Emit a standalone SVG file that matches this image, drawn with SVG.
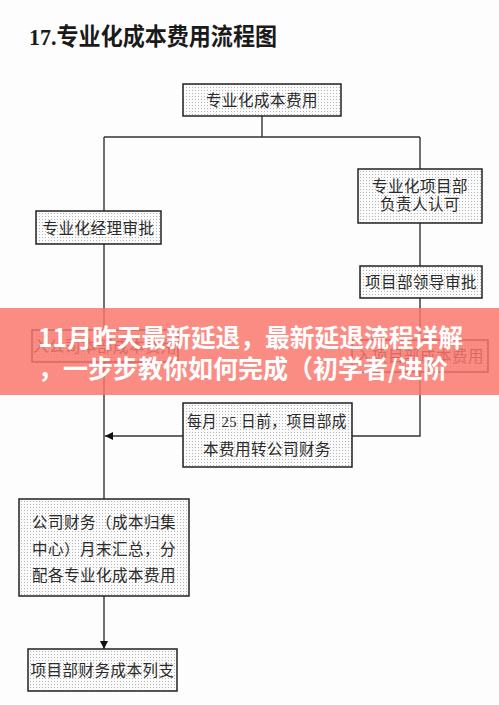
<svg xmlns="http://www.w3.org/2000/svg" width="499" height="705" viewBox="0 0 499 705">
<defs>
<pattern id="dots" width="3" height="3" patternUnits="userSpaceOnUse">
<rect width="3" height="3" fill="#fbfbfb"/>
<rect width="1" height="1" fill="#b4b4b4"/>
</pattern>
<marker id="arr" viewBox="0 0 10 10" refX="10" refY="5" markerWidth="8" markerHeight="8" markerUnits="userSpaceOnUse" orient="auto">
<path d="M0,0 L10,5 L0,10 Z" fill="#111"/>
</marker>
</defs>
<style>
.box{fill:url(#dots);stroke:#222;stroke-width:1.5}
.t{font-family:"Liberation Serif","Noto Sans CJK SC",serif;font-size:15.5px;fill:#2a2a2a;text-anchor:middle;dominant-baseline:central;letter-spacing:0.5px}
.ln{fill:none;stroke:#333;stroke-width:1.4}
.title{font-family:"Liberation Serif","Noto Sans CJK SC",serif;font-weight:bold;font-size:23.5px;fill:#1a1a1a}
.ban{font-family:"Noto Sans CJK SC","Noto Sans",sans-serif;font-weight:bold;font-size:25px;fill:#ffffff}
</style>
<rect width="499" height="705" fill="#fdfdfd"/>
<text class="title" x="29" y="45" textLength="248" lengthAdjust="spacingAndGlyphs">17.专业化成本费用流程图</text>

<g id="connectors">
<path class="ln" d="M262,116 V137 M104,137 H420 M104,137 V211 M420,137 V169 M420,223 V266 M420,298 V340 M420,372 V436 H352 M104,244 V330 M104,362 V499"/>
<path class="ln" d="M183,436 H105" marker-end="url(#arr)"/>
<path class="ln" d="M104,596 V649" marker-end="url(#arr)"/>
</g>

<g id="n1"><rect class="box" x="183" y="84" width="158" height="32"/><text class="t" x="262" y="100">专业化成本费用</text></g>
<g id="n2"><rect class="box" x="36" y="211" width="125" height="33"/><text class="t" x="98.5" y="228">专业化经理审批</text></g>
<g id="n3"><rect class="box" x="358" y="169" width="124" height="54"/><text class="t" x="420" y="186">专业化项目部</text><text class="t" x="420" y="204">负责人认可</text></g>
<g id="n4"><rect class="box" x="360" y="266" width="122" height="32"/><text class="t" x="421" y="282">项目部领导审批</text></g>
<g id="n5"><rect class="box" x="32" y="330" width="146" height="32"/><text class="t" x="105" y="346">入公司本部成本费用</text></g>
<g id="n6"><rect class="box" x="352" y="340" width="136" height="32"/><text class="t" x="420" y="356">入项目部成本费用</text></g>
<g id="n7"><rect class="box" x="183" y="403" width="169" height="64"/><text class="t" x="267" y="421" textLength="160" lengthAdjust="spacingAndGlyphs">每月 25 日前，项目部成</text><text class="t" x="267" y="449">本费用转公司财务</text></g>
<g id="n8"><rect class="box" x="19" y="499" width="170" height="97"/><text class="t" x="104" y="522">公司财务（成本归集</text><text class="t" x="104" y="549">中心）月末汇总，分</text><text class="t" x="104" y="575">配各专业化成本费用</text></g>
<g id="n9"><rect class="box" x="28" y="649" width="149" height="42"/><text class="t" x="102.5" y="670">项目部财务成本列支</text></g>

<g id="banner">
<rect x="0" y="308" width="499" height="87" fill="rgb(250,118,108)" opacity="0.84"/>
<text class="ban" x="38" y="347" textLength="425" lengthAdjust="spacingAndGlyphs">11月昨天最新延退，最新延退流程详解</text>
<text class="ban" x="38" y="378">，一步步教你如何完成（初学者/进阶</text>
</g>
</svg>
